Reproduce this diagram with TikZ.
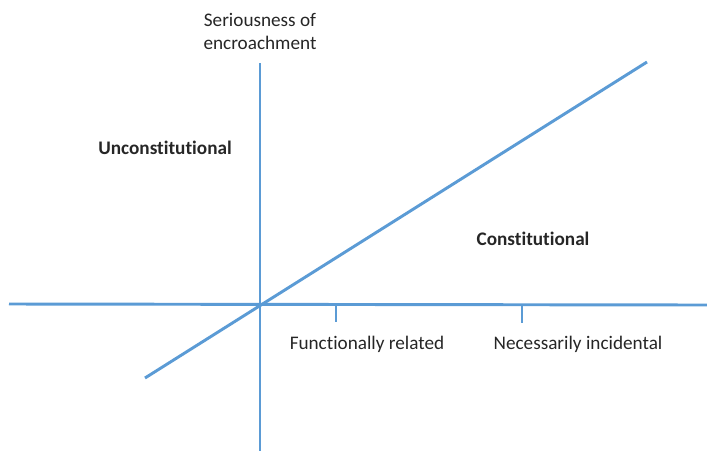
\documentclass[tikz,border=0pt]{standalone}
\usepackage{fontspec}
\setmainfont{Carlito}[Ligatures={NoCommon,NoRare}]
\definecolor{axisblue}{HTML}{5B9BD5}
\begin{document}
\begin{tikzpicture}[x=0.75pt,y=-0.75pt,
  axis/.style={draw=axisblue,line width=2.2pt},
  lbl/.style={font=\fontsize{14.4}{17.3}\selectfont,inner sep=0pt,text=black!85},
  zone/.style={lbl,font=\fontsize{14.4}{17.3}\selectfont\bfseries}]
\useasboundingbox (0,0) rectangle (707,451);
% axes
\coordinate (ytop) at (260,63);
\coordinate (ybot) at (260,451);
\coordinate (xl) at (9,304);
\coordinate (xr) at (707,305);
\draw[axis] (ytop) -- (ybot);
\draw[axis] (xl) -- (xr);
% boundary line
\coordinate (dlo) at (145,378);
\coordinate (dhi) at (647,62);
\draw[axis] (dlo) -- (dhi);
% ticks
\coordinate (t1a) at (336,305);
\coordinate (t1b) at (336,322);
\coordinate (t2a) at (522,305);
\coordinate (t2b) at (522,323);
\draw[axis] (t1a) -- (t1b);
\draw[axis] (t2a) -- (t2b);
% labels
\node[lbl,align=center] (yl) at (260,31) {Seriousness of\\encroachment};
\node[zone] (unc) at (165,148) {Unconstitutional};
\node[zone] (con) at (533,239) {Constitutional};
\node[lbl] (fr) at (367,344) {Functionally related};
\node[lbl] (ni) at (578,344) {Necessarily incidental};
\end{tikzpicture}
\end{document}
